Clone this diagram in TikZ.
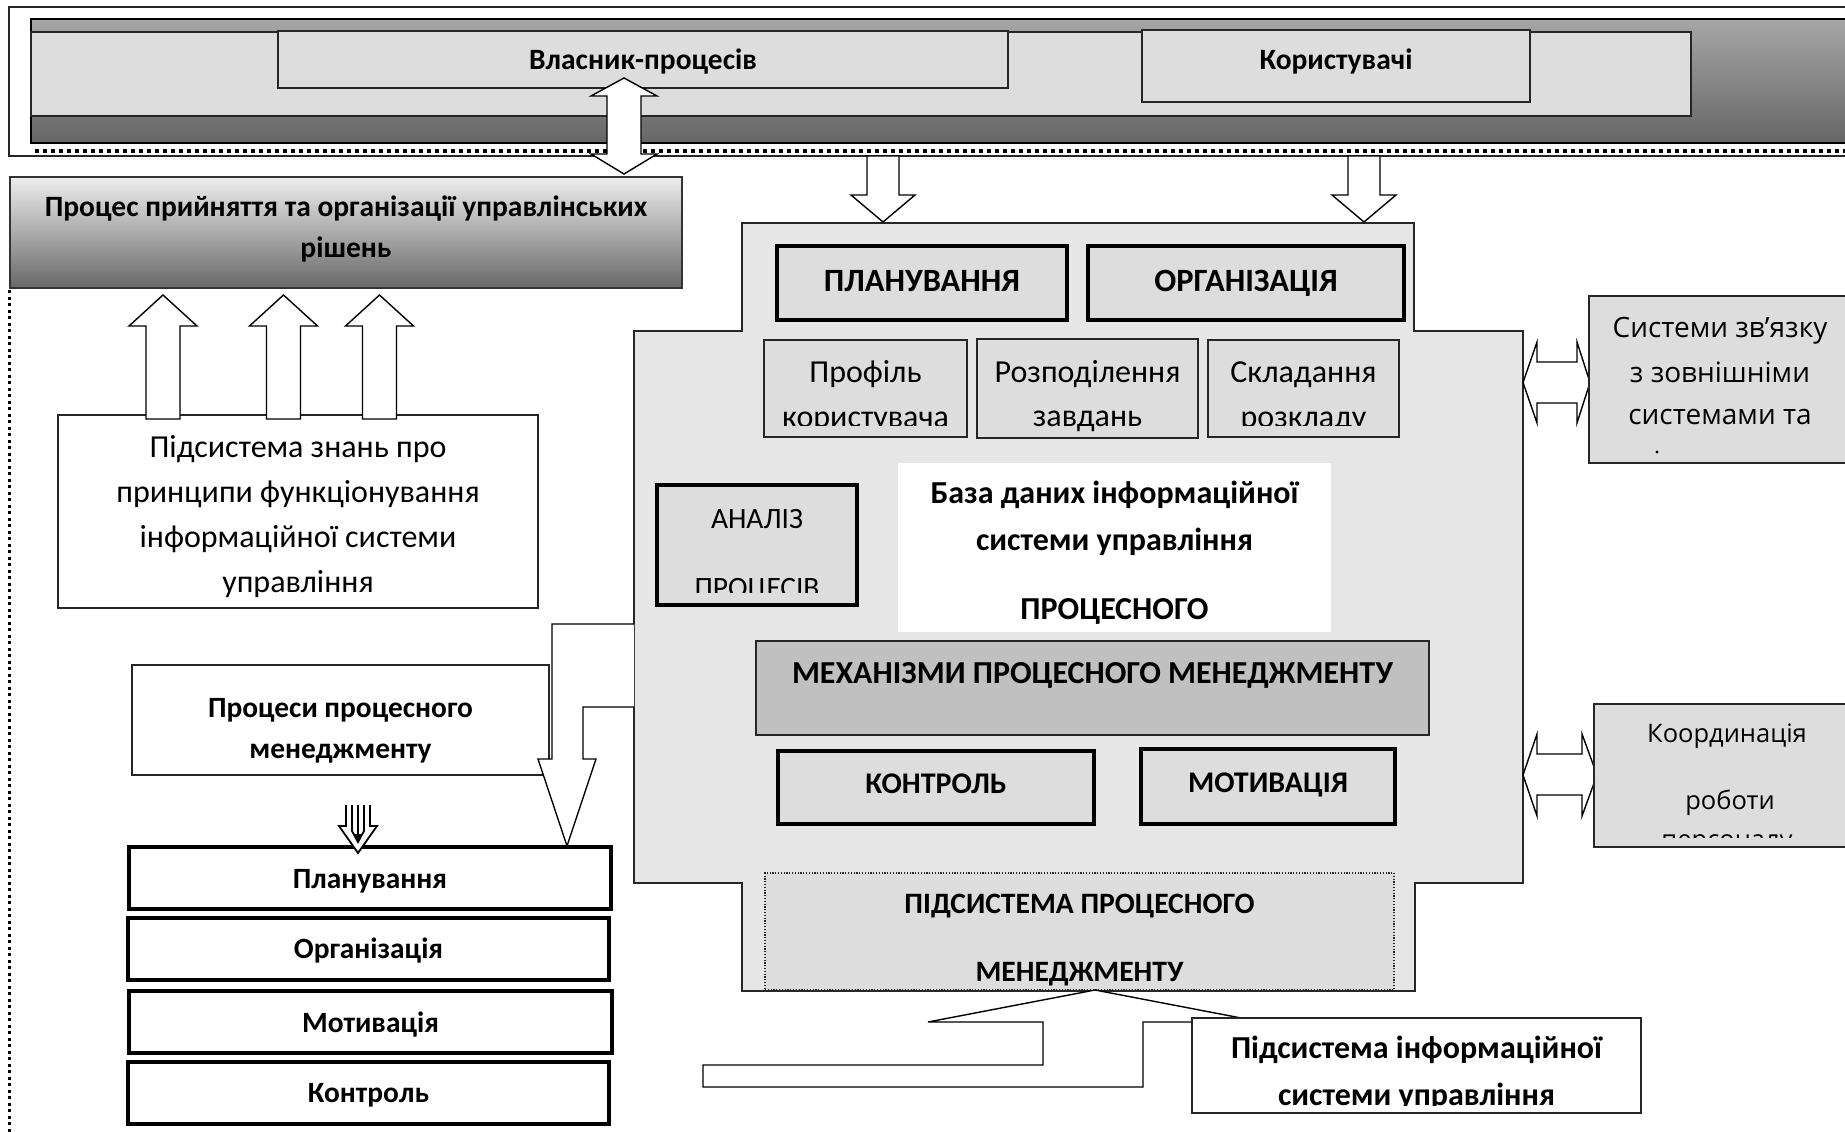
\documentclass[tikz,border=0pt]{standalone}
\usepackage{fontspec}
\setmainfont{Carlito}
\newfontfamily\osans{Open Sans}
\definecolor{boxgray}{HTML}{DDDDDD}
\definecolor{cgray}{HTML}{E6E6E6}
\definecolor{mgray}{HTML}{C0C0C0}
\definecolor{bandtop}{HTML}{A6A6A6}
\definecolor{bandbot}{HTML}{666666}
\definecolor{gradbot}{HTML}{686868}
\newcommand\fs[1]{\fontsize{#1}{#1}\selectfont}
\newcommand\bx[6][]{\node[#1, minimum width={#5pt-#3pt}, minimum height={#6pt-#4pt}] (#2) at ({(#3+#5)/2},{(#4+#6)/2}) {};}
\begin{document}
\begin{tikzpicture}[x=1pt,y=-1pt,
  thinbox/.style={rectangle, draw=black!85, line width=1.4pt, fill=boxgray, inner sep=0pt, outer sep=0pt},
  thickbox/.style={thinbox, draw=black, line width=4pt},
  whitebox/.style={thinbox, fill=white},
  txt/.style={anchor=base, inner sep=0pt, outer sep=0pt},
  bt/.style={txt, font=\bfseries\fs{#1}},
  rt/.style={txt, font=\fs{#1}},
  ot/.style={txt, font=\osans\fs{#1}},
  barrow/.style={draw=black, line width=1.4pt, fill=white, line join=miter}]
\useasboundingbox (0,0) rectangle (1845,1132);
\clip (0,0) rectangle (1845,1132);

% ---- top frame and band
\bx[rectangle, draw=black!85, line width=1.5pt, fill=white, inner sep=0pt, outer sep=0pt]{frame}{9}{7}{1900}{156}
\shade[top color=bandtop, bottom color=bandbot] (31,19) rectangle (1900,143);
\draw[line width=2.5pt] (31,19) rectangle (1900,143);
\bx[thinbox]{bandin}{31}{32}{1691}{116}
\bx[thinbox]{owner}{278}{31}{1008}{88}
\node[bt=29.5] (owner-t) at (643,70) {Власник-процесів};
\bx[thinbox]{users}{1142}{30}{1530}{102}
\node[bt=29.5] (users-t) at (1336,70) {Користувачі};
\draw[line width=3.5pt, dash pattern=on 3.5pt off 4.5pt] (35,151) -- (1845,151);

% ---- decision box
\shade[top color=white!93!black, bottom color=gradbot] (10,177) rectangle (682,288);
\node[rectangle, draw=black!80, line width=1.2pt, inner sep=0pt, outer sep=0pt, minimum width=672pt, minimum height=111pt] (dec) at (346,232.5) {};
\node[bt=29.5] (dec-1) at (346,216) {Процес прийняття та організації управлінських};
\node[bt=29.5] (dec-2) at (346,257) {рішень};

% double vertical arrow
\filldraw[barrow] (624,78) -- (657,96) -- (641,96) -- (641,154) -- (657,154) -- (624,174) -- (591,154) -- (607,154) -- (607,96) -- (591,96) -- cycle;

% left dotted line
\draw[line width=3pt, dash pattern=on 3pt off 3.5pt] (9,290) -- (9,1132);

% ---- knowledge subsystem
\bx[whitebox]{know}{58}{415}{538}{608}
\node[rt=32] (know-1) at (298,457) {Підсистема знань про};
\node[rt=32] (know-2) at (298,502) {принципи функціонування};
\node[rt=32] (know-3) at (298,547) {інформаційної системи};
\node[rt=32] (know-4) at (298,592) {управління};
\foreach \c in {163,283.5,379.5}{
  \filldraw[barrow] (\c,295) -- (\c+34,326) -- (\c+17,326) -- (\c+17,419) -- (\c-17,419) -- (\c-17,326) -- (\c-34,326) -- cycle;
}

% ---- central block
\filldraw[draw=black!85, line width=1.4pt, fill=cgray] (742,223) -- (1414,223) -- (1414,331) -- (1523,331) -- (1523,883) -- (1415,883) -- (1415,991) -- (742,991) -- (742,883) -- (634,883) -- (634,331) -- (742,331) -- cycle;
\foreach \c in {883,1364}{
  \filldraw[barrow] (\c-16,156) -- (\c+16,156) -- (\c+16,195) -- (\c+32,195) -- (\c,222) -- (\c-32,195) -- (\c-16,195) -- cycle;
}
\bx[thickbox]{plan}{777}{246}{1067}{320}
\node[bt=32.5] (plan-t) at (922,291) {ПЛАНУВАННЯ};
\bx[thickbox]{org}{1088}{246}{1404}{320}
\node[bt=32.5] (org-t) at (1246,291) {ОРГАНІЗАЦІЯ};

\bx[thinbox]{prof}{764}{340}{967}{437}
\bx[thinbox]{rozp}{977}{339}{1198}{438}
\bx[thinbox]{skl}{1208}{340}{1399}{437}
\begin{scope}
  \clip (764,340) rectangle (967,425.5);
  \node[rt=32] (prof-1) at (865.5,382) {Профіль};
  \node[rt=32] (prof-2) at (865.5,427) {користувача};
\end{scope}
\node[rt=32] (rozp-1) at (1087.5,382) {Розподілення};
\node[rt=32] (rozp-2) at (1087.5,426) {завдань};
\begin{scope}
  \clip (1208,340) rectangle (1399,425.5);
  \node[rt=32] (skl-1) at (1303.5,382) {Складання};
  \node[rt=32] (skl-2) at (1303.5,427) {розкладу};
\end{scope}

\bx[thickbox]{anal}{657}{485}{857}{605}
\begin{scope}
  \clip (660,490) rectangle (854,592);
  \node[rt=29.5] (anal-1) at (757,528) {АНАЛІЗ};
  \node[rt=29.5] (anal-2) at (757,597) {ПРОЦЕСІВ};
\end{scope}

\bx[thinbox, fill=white, draw=none]{db}{898}{463}{1331}{632}
\node[bt=32] (db-1) at (1114.5,503) {База даних інформаційної};
\node[bt=32] (db-2) at (1114.5,550) {системи управління};
\node[bt=32] (db-3) at (1114.5,619) {ПРОЦЕСНОГО};

\bx[thinbox, fill=mgray]{mech}{756}{641}{1429}{735}
\node[bt=32] (mech-t) at (1092.5,683) {МЕХАНІЗМИ ПРОЦЕСНОГО МЕНЕДЖМЕНТУ};

\bx[thickbox]{ctrl}{778}{751}{1094}{824}
\node[bt=30] (ctrl-t) at (936,793) {КОНТРОЛЬ};
\bx[thickbox]{motiv}{1141}{749}{1395}{824}
\node[bt=30] (motiv-t) at (1268,792) {МОТИВАЦІЯ};

\bx[thinbox, line width=1.2pt, dash pattern=on 1.2pt off 1.6pt]{subpm}{765}{873}{1394}{990}
\node[bt=29.6] (subpm-1) at (1079.5,913) {ПІДСИСТЕМА ПРОЦЕСНОГО};
\node[bt=29.6] (subpm-2) at (1079.5,981) {МЕНЕДЖМЕНТУ};

% ---- right side
\filldraw[barrow] (1523,382.5) -- (1537,342) -- (1537,362) -- (1577,362) -- (1577,342) -- (1590,382.5) -- (1577,423) -- (1577,403) -- (1537,403) -- (1537,423) -- cycle;
\bx[thinbox]{ext}{1589}{296}{1900}{463}
\node[ot=28] (ext-1) at (1720,337) {Системи зв’язку};
\node[ot=28] (ext-2) at (1720,382) {з зовнішніми};
\node[ot=28] (ext-3) at (1720,424) {системами та};
\fill (1657,452) circle (1.6pt);

\filldraw[barrow] (1523,775) -- (1537,734) -- (1537,754) -- (1582,754) -- (1582,734) -- (1597,775) -- (1582,816) -- (1582,795) -- (1537,795) -- (1537,816) -- cycle;
\bx[thinbox]{coord}{1594}{704}{1900}{847}
\begin{scope}
  \clip (1597,707) rectangle (1845,837);
  \node[ot=25.5] (coord-1) at (1727,742) {Координація};
  \node[ot=25.5] (coord-2) at (1730,809) {роботи};
  \node[ot=25.5] (coord-3) at (1727,848.5) {персоналу};
\end{scope}

% ---- left lower part
\bx[whitebox]{procs}{132}{665}{549}{775}
\node[bt=29.4] (procs-1) at (340.5,717) {Процеси процесного};
\node[bt=29.4] (procs-2) at (340.5,758) {менеджменту};

\bx[thickbox, fill=white]{lplan}{129}{847}{611}{909}
\node[bt=29.4] (lplan-t) at (370,888) {Планування};
\bx[thickbox, fill=white]{lorg}{128}{918}{609}{980}
\node[bt=29.4] (lorg-t) at (368.5,958) {Організація};
\bx[thickbox, fill=white]{lmot}{129}{991}{612}{1053}
\node[bt=29.4] (lmot-t) at (370.5,1032) {Мотивація};
\bx[thickbox, fill=white]{lctrl}{128}{1062}{609}{1124}
\node[bt=29.4] (lctrl-t) at (368.5,1102) {Контроль};

% L-arrow from central block to Планування
\filldraw[barrow] (634,624) -- (552,624) -- (552,759) -- (538,759) -- (567,846) -- (596,759) -- (583,759) -- (583,707) -- (634,707);

% triple arrow
\begin{scope}[line width=1.8pt, line join=miter]
  \fill[white] (346,805) -- (346,826) -- (339,826) -- (358,853) -- (377,826) -- (370,826) -- (370,805) -- cycle;
  \draw (346,805) -- (346,826) -- (339,826) -- (358,853) -- (377,826) -- (370,826) -- (370,805);
  \draw (352,805) -- (352,831) -- (358,842) -- (364,831) -- (364,805);
  \draw (358,805) -- (358,836);
  \fill (354,834) -- (362,834) -- (358,841) -- cycle;
\end{scope}

% ---- bottom bent arrow and info subsystem
\filldraw[barrow] (703,1065) -- (1043,1065) -- (1043,1022) -- (928,1022) -- (1095,990) -- (1262,1022) -- (1143,1022) -- (1143,1087) -- (703,1087) -- cycle;
\bx[whitebox, line width=1.8pt]{info}{1192}{1018}{1641}{1113}
\begin{scope}
  \clip (1195,1021) rectangle (1638,1105);
  \node[bt=32] (info-1) at (1416.5,1058) {Підсистема інформаційної};
  \node[bt=32] (info-2) at (1416.5,1105) {системи управління};
\end{scope}
\end{tikzpicture}
\end{document}
